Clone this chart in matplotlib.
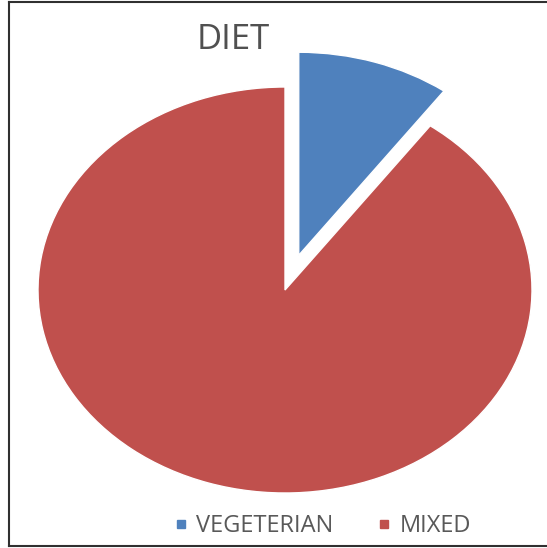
import matplotlib
matplotlib.use("Agg")
import matplotlib.pyplot as plt
from matplotlib.lines import Line2D

categories = ["VEGETERIAN", "MIXED"]
values = [10, 90]
colors = ["#4F81BD", "#C0504D"]
explode = [0.18, 0.0]

W, H = 547, 548
fig = plt.figure(figsize=(W / 100, H / 100), dpi=100)
fig.patch.set_facecolor("white")

cx, cy = 285, H - 290
rx, ry = 247, 203
xl, yl = 1.1, 1.25
ax = fig.add_axes([(cx - rx * xl) / W, (cy - ry * yl) / H, 2 * rx * xl / W, 2 * ry * yl / H])
ax.pie(values, colors=colors, explode=explode, startangle=90, counterclock=False,
       wedgeprops=dict(edgecolor="white", linewidth=1.0))
ax.set_aspect("auto")
ax.set_xlim(-xl, xl)
ax.set_ylim(-yl, yl)
ax.axis("off")

fig.text(233 / W, 1 - 40 / H, "DIET", ha="center", va="center", fontsize=25,
         color="#505050", family="Open Sans")

handles = [Line2D([0], [0], marker="s", linestyle="none", markersize=6,
                  markerfacecolor=c, markeredgecolor=c) for c in colors]
fig.legend(handles, categories, loc="center", bbox_to_anchor=(322 / W, 1 - 526 / H),
           ncol=2, frameon=False, handletextpad=0.3, columnspacing=1.8,
           handlelength=0.7, prop={"family": "Open Sans", "size": 17},
           labelcolor="#595959")

# frame lines (left, top, bottom)
lc = "#303030"
for xs, ys in [((9, 9), (2, 546)), ((9, 547), (2, 2)), ((9, 547), (546, 546))]:
    fig.add_artist(Line2D([x / W for x in xs], [1 - y / H for y in ys],
                          transform=fig.transFigure, color=lc, linewidth=1.5))

fig.savefig("out.png", dpi=100)
